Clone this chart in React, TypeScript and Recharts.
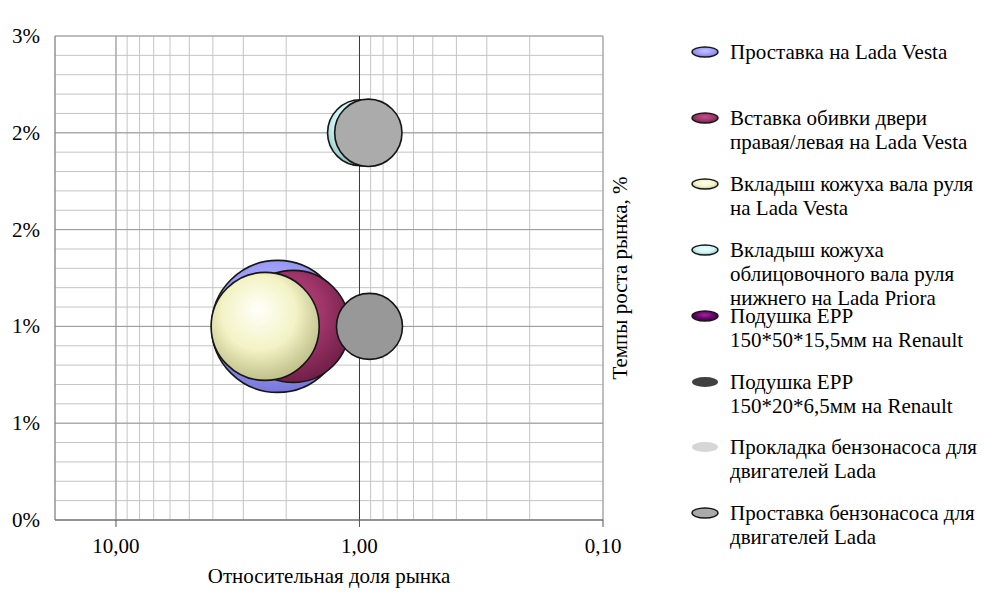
import React from "react";
import { ScatterChart, Scatter, XAxis, YAxis, ZAxis, CartesianGrid, Cell, Label } from "recharts";

const FONT = '"Liberation Serif", "Times New Roman", serif';

// series (legend order)
const seriesNames = [
    "Проставка на Lada Vesta",
    "Вставка обивки двери\nправая/левая на Lada Vesta",
    "Вкладыш кожуха вала руля\nна Lada Vesta",
    "Вкладыш кожуха\nоблицовочного вала руля\nнижнего на Lada Priora",
    "Подушка EPP\n150*50*15,5мм на Renault",
    "Подушка EPP\n150*20*6,5мм на Renault",
    "Прокладка бензонасоса для\nдвигателей Lada",
    "Проставка бензонасоса для\nдвигателей Lada",
];

// relative market share (x), market growth (y), bubble volume (z)
const relativeShare: number[][] = [[2.17], [1.87], [2.44], [0.99], [], [], [], [0.92, 0.91]];
const marketGrowth: number[][] = [[0.012], [0.012], [0.012], [0.024], [], [], [], [0.024, 0.012]];
const bubbleVolume: number[][] = [[100], [72], [67], [25], [], [], [], [26, 25]];

const xGridTicks = [0.1, 0.2, 0.3, 0.4, 0.5, 0.6, 0.7, 0.8, 0.9, 1, 2, 3, 4, 5, 6, 7, 8, 9, 10];
const xLabelTicks = [10, 1, 0.1];
const yGridTicks = [
    0, 0.0012, 0.0024, 0.0036, 0.0048, 0.006, 0.0072, 0.0084, 0.0096, 0.0108, 0.012, 0.0132, 0.0144,
    0.0156, 0.0168, 0.018, 0.0192, 0.0204, 0.0216, 0.0228, 0.024, 0.0252, 0.0264, 0.0276, 0.0288, 0.03,
];
const yLabelTicks = [0, 0.006, 0.012, 0.018, 0.024, 0.03];

const seriesStyles = [
    { light: "#C4C4FF", base: "#9C9CF8", dark: "#7676D8", stroke: "#161616", flat: false },
    { light: "#C2508A", base: "#9E3468", dark: "#6E1E46", stroke: "#161616", flat: false },
    { light: "#FFFFFA", base: "#F3F3C6", dark: "#BDBD86", stroke: "#161616", flat: false },
    { light: "#F0FFFF", base: "#CCF4F4", dark: "#88B8B8", stroke: "#161616", flat: false },
    { light: "#9A2AA0", base: "#660066", dark: "#3E003E", stroke: "#161616", flat: false },
    { light: "#404040", base: "#404040", dark: "#404040", stroke: "none", flat: true },
    { light: "#D6D6D6", base: "#D6D6D6", dark: "#D6D6D6", stroke: "none", flat: true },
    { light: "#AAAAAA", base: "#AAAAAA", dark: "#AAAAAA", stroke: "#161616", flat: true },
];
const pointFills: string[][] = [[], [], [], [], [], [], [], ["#ABABAB", "#989898"]];

const seriesData = seriesNames.map((_, i) =>
    relativeShare[i].map((x, j) => ({ x, y: marketGrowth[i][j], z: bubbleVolume[i][j] }))
);

function Bubble(props: any) {
    const { cx, cy, width, fill, seriesIndex } = props;
    const r = (width || 0) / 2;
    if (!r || r < 0.5) return null;
    const st = seriesStyles[seriesIndex];
    const id = `bub-${seriesIndex}-${Math.round(cx)}-${Math.round(cy)}`;
    const paint = st.flat ? fill || st.base : `url(#${id})`;
    return (
        <g>
            {!st.flat && (
                <defs>
                    <radialGradient id={id} cx="45%" cy="40%" r="62%" fx="43%" fy="34%">
                        <stop offset="0%" stopColor={st.light} />
                        <stop offset="55%" stopColor={st.base} />
                        <stop offset="100%" stopColor={st.dark} />
                    </radialGradient>
                </defs>
            )}
            <circle cx={cx} cy={cy} r={r} fill={paint} stroke={st.stroke} strokeWidth={1.6} />
        </g>
    );
}

function XTick(props: any) {
    const { x, y, payload } = props;
    const v = payload.value;
    if (!xLabelTicks.some((t) => Math.abs(t - v) < 1e-9)) return <g />;
    return (
        <g>
            <line x1={x} y1={y} x2={x} y2={y + 7} stroke="#555" />
            <text x={x} y={y + 33} textAnchor="middle" fontFamily={FONT} fontSize={21} fill="#000">
                {v.toFixed(2).replace(".", ",")}
            </text>
        </g>
    );
}

function YTick(props: any) {
    const { x, y, payload } = props;
    const v = payload.value;
    if (!yLabelTicks.some((t) => Math.abs(t - v) < 1e-9)) return <g />;
    return (
        <text x={x - 15} y={y + 7} textAnchor="end" fontFamily={FONT} fontSize={21} fill="#000">
            {Math.round(v * 100) + "%"}
        </text>
    );
}

function LegendMarker({ i }: { i: number }) {
    const st = seriesStyles[i];
    const id = `leg-${i}`;
    return (
        <svg width={30} height={14} style={{ position: "absolute", left: 0, top: 5 }}>
            <defs>
                <radialGradient id={id} cx="50%" cy="40%" r="60%">
                    <stop offset="0%" stopColor={st.light} />
                    <stop offset="60%" stopColor={st.base} />
                    <stop offset="100%" stopColor={st.dark} />
                </radialGradient>
            </defs>
            <ellipse cx={15} cy={7} rx={13} ry={5} fill={`url(#${id})`} stroke={st.stroke} strokeWidth={1.4} />
        </svg>
    );
}

export default function App() {
    return (
        <div style={{ position: "absolute", left: 0, top: 0, width: 997, height: 596, background: "#fff" }}>
            <ScatterChart width={997} height={596} margin={{ top: 36, right: 394, bottom: 16, left: 0 }}>
                <CartesianGrid stroke="#C4C4C4" strokeWidth={1} />
                <CartesianGrid
                    stroke="#9A9A9A"
                    horizontalValues={yLabelTicks}
                    verticalValues={[10, 0.1]}
                    fill="none"
                />
                <CartesianGrid stroke="#3A3A3A" horizontal={false} verticalValues={[1]} fill="none" />
                <XAxis
                    type="number"
                    dataKey="x"
                    scale="log"
                    domain={[0.1, 17.8]}
                    allowDataOverflow
                    reversed
                    ticks={xGridTicks}
                    interval={0}
                    tickSize={0}
                    tickMargin={0}
                    tickLine={false}
                    tick={<XTick />}
                    axisLine={{ stroke: "#6A6A6A" }}
                    height={60}
                >
                    <Label
                        value="Относительная доля рынка"
                        position="insideBottom"
                        offset={-3}
                        style={{ fontFamily: FONT, fontSize: 21, fill: "#000" }}
                    />
                </XAxis>
                <YAxis
                    type="number"
                    dataKey="y"
                    domain={[0, 0.03]}
                    ticks={yGridTicks}
                    interval={0}
                    tickSize={0}
                    tickMargin={0}
                    tickLine={false}
                    tick={<YTick />}
                    axisLine={{ stroke: "#7A7A7A" }}
                    width={55}
                />
                <ZAxis type="number" dataKey="z" domain={[0, 100]} range={[0, 13685]} />
                {seriesData.map((data, i) => (
                    <Scatter
                        key={i}
                        name={seriesNames[i]}
                        data={data}
                        fill={seriesStyles[i].base}
                        isAnimationActive={false}
                        shape={(p: any) => <Bubble {...p} seriesIndex={i} />}
                    >
                        {data.map((_, j) => (
                            <Cell key={j} fill={pointFills[i][j] || seriesStyles[i].base} />
                        ))}
                    </Scatter>
                ))}
            </ScatterChart>

            <svg width={997} height={596} style={{ position: "absolute", left: 0, top: 0, pointerEvents: "none" }}>
                <text
                    transform="translate(627,278) rotate(-90)"
                    textAnchor="middle"
                    fontFamily={FONT}
                    fontSize={21}
                    fill="#000"
                >
                    Темпы роста рынка, %
                </text>
            </svg>

            {seriesNames.map((name, i) => (
                <div
                    key={i}
                    style={{ position: "absolute", left: 690, top: 40 + i * 65.9, width: 300, height: 30 }}
                >
                    <LegendMarker i={i} />
                    <div
                        style={{
                            position: "absolute",
                            left: 40,
                            top: 0,
                            whiteSpace: "pre",
                            fontFamily: FONT,
                            fontSize: 21,
                            lineHeight: "24px",
                            color: "#000",
                        }}
                    >
                        {name}
                    </div>
                </div>
            ))}
        </div>
    );
}
